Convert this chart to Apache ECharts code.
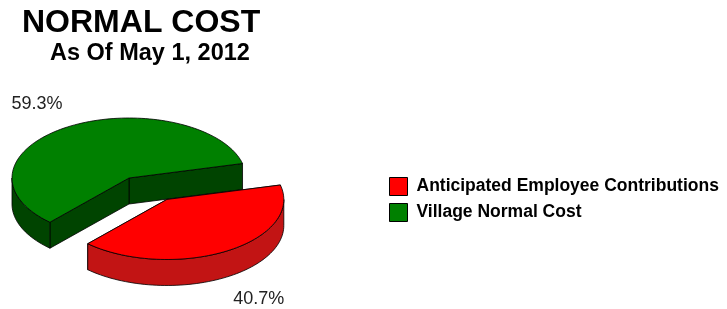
<!DOCTYPE html>
<html>
<head>
<meta charset="utf-8">
<script src="https://cdn.jsdelivr.net/npm/echarts@6/dist/echarts.min.js"></script>
<style>
  html, body { margin: 0; padding: 0; background: #fff; }
  #chart { width: 727px; height: 309px; }
</style>
</head>
<body>
<div id="chart"></div>
<script>
// slices, in legend order
var categories = ['Anticipated Employee Contributions', 'Village Normal Cost'];
var values = [40.7, 59.3];
var topColors = ['#ff0000', '#008000'];
var sideColors = ['#c21414', '#004400'];
var exploded = [true, false];
// draw order around the ellipse (counter-clockwise from startAngle)
var drawOrder = [1, 0];

var FONT = '"Liberation Sans", Arial, Helvetica, sans-serif';
var cx = 129, cy = 178, rx = 117, ry = 60, depth = 26;
var startAngle = 14;
var explodeX = 74, explodeY = 25;

var total = values.reduce(function (a, b) { return a + b; }, 0);
var angles = [];
var acc = startAngle;
drawOrder.forEach(function (i) {
  var span = values[i] / total * 360;
  angles[i] = [acc, acc + span];
  acc += span;
});

function rad(d) { return d * Math.PI / 180; }
function pt(x0, y0, a, dy) {
  return [x0 + rx * Math.cos(rad(a)), y0 - ry * Math.sin(rad(a)) + (dy || 0)];
}
function arcPts(x0, y0, a0, a1, dy) {
  var pts = [];
  var n = Math.max(2, Math.ceil(Math.abs(a1 - a0) / 2));
  for (var k = 0; k <= n; k++) pts.push(pt(x0, y0, a0 + (a1 - a0) * k / n, dy));
  return pts;
}

function makeRender(i) {
  return function (params, api) {
    var a0 = angles[i][0], a1 = angles[i][1];
    var mid = (a0 + a1) / 2;
    var x0 = cx, y0 = cy;
    if (exploded[i]) {
      x0 += Math.cos(rad(mid)) * explodeX;
      y0 -= Math.sin(rad(mid)) * explodeY;
    }
    var stroke = { stroke: '#000', lineWidth: 0.8 };
    var children = [];
    // radial walls
    [a0, a1].forEach(function (a) {
      var e = pt(x0, y0, a);
      children.push({
        type: 'polygon',
        shape: { points: [[x0, y0], e, [e[0], e[1] + depth], [x0, y0 + depth]] },
        style: Object.assign({ fill: sideColors[i] }, stroke)
      });
    });
    // outer wall, front-facing part only
    [[180, 360], [540, 720]].forEach(function (r) {
      var s = Math.max(a0, r[0]), t = Math.min(a1, r[1]);
      if (t > s) {
        var top = arcPts(x0, y0, s, t, 0);
        var bot = arcPts(x0, y0, s, t, depth).reverse();
        children.push({
          type: 'polygon',
          shape: { points: top.concat(bot) },
          style: Object.assign({ fill: sideColors[i] }, stroke)
        });
      }
    });
    // top face
    children.push({
      type: 'polygon',
      shape: { points: [[x0, y0]].concat(arcPts(x0, y0, a0, a1, 0)) },
      style: Object.assign({ fill: topColors[i] }, stroke)
    });
    // percent label
    var sinM = Math.sin(rad(mid));
    children.push({
      type: 'text',
      style: {
        text: (values[i] / total * 100).toFixed(1) + '%',
        x: x0 + Math.cos(rad(mid)) * 180,
        y: y0 - sinM * 86 + (sinM < 0 ? 26 : 0),
        align: 'center',
        verticalAlign: 'middle',
        fill: '#222',
        font: '18px ' + FONT
      }
    });
    return { type: 'group', children: children };
  };
}

var series = categories.map(function (name, i) {
  return {
    name: name,
    type: 'custom',
    coordinateSystem: 'none',
    z: exploded[i] ? 3 : 2,
    itemStyle: { color: topColors[i] },
    renderItem: makeRender(i),
    data: [[values[i]]],
    silent: true,
    animation: false
  };
});

var chart = echarts.init(document.getElementById('chart'));
chart.setOption({
  animation: false,
  title: [
    {
      text: 'NORMAL COST', left: 22, top: 7, padding: 0,
      textStyle: { fontSize: 32, fontWeight: 'bold', color: '#000', fontFamily: FONT }
    },
    {
      text: 'As Of May 1, 2012', left: 50, top: 42, padding: 0,
      textStyle: { fontSize: 23.5, fontWeight: 'bold', color: '#000', fontFamily: FONT }
    }
  ],
  legend: {
    data: categories,
    orient: 'vertical',
    left: 389,
    top: 177,
    padding: 0,
    icon: 'rect',
    itemWidth: 18,
    itemHeight: 18,
    itemGap: 7,
    itemStyle: { borderColor: '#000', borderWidth: 1 },
    selectedMode: false,
    textStyle: { fontSize: 17.5, fontWeight: 'bold', color: '#000', fontFamily: FONT, padding: [0, 0, 0, 4] }
  },
  series: series
});
</script>
</body>
</html>
